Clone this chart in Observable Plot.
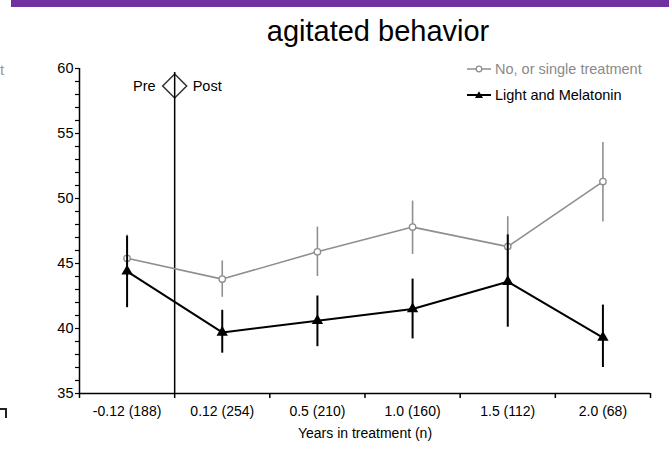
<!DOCTYPE html>
<html><head><meta charset="utf-8">
<script src="https://cdn.jsdelivr.net/npm/d3@7"></script>
<script src="https://cdn.jsdelivr.net/npm/@observablehq/plot@0.6"></script>
<style>
body{margin:0;background:#fff;font-family:"Liberation Sans",Arial,sans-serif;}
#wrap{position:relative;width:669px;height:462px;overflow:hidden;}
#bar{position:absolute;left:11px;top:0;width:658px;height:7px;background:#7030a0;}
#title{position:absolute;left:0;width:756px;top:17px;text-align:center;font-size:29px;line-height:29px;color:#000;}
#chart{position:absolute;left:0;top:0;}
.leg{position:absolute;left:467px;font-size:14.5px;line-height:16px;white-space:nowrap;display:flex;align-items:center;}
.leg svg{margin-right:4px;}
#fragT{position:absolute;left:0;top:61px;font-size:15px;color:#999;}
#fragB{position:absolute;left:0;top:408px;width:5px;height:8px;border-top:2px solid #222;border-right:2px solid #222;}
</style></head>
<body>
<div id="wrap">
  <div id="bar"></div>
  <div id="title">agitated behavior</div>
  <div id="chart"></div>
  <div id="fragT">t</div>
  <div id="fragB"></div>
</div>
<script>
const categories = ["-0.12 (188)", "0.12 (254)", "0.5 (210)", "1.0 (160)", "1.5 (112)", "2.0 (68)"];
const seriesNames = ["No, or single treatment", "Light and Melatonin"];
const noneMean = [45.4, 43.8, 45.9, 47.8, 46.3, 51.3];
const noneLow  = [43.6, 42.4, 44.0, 45.7, 44.3, 48.2];
const noneHigh = [47.2, 45.2, 47.8, 49.8, 48.6, 54.3];
const lmMean = [44.4, 39.7, 40.6, 41.5, 43.6, 39.3];
const lmLow  = [41.6, 38.1, 38.6, 39.2, 40.1, 37.0];
const lmHigh = [47.1, 41.4, 42.5, 43.8, 47.2, 41.8];
const yMajorTicks = [35, 40, 45, 50, 55, 60];
const yMinorTicks = [36, 37, 38, 39, 41, 42, 43, 44, 46, 47, 48, 49, 51, 52, 53, 54, 56, 57, 58, 59];
const xBoundaries = [-0.5, 0.5, 1.5, 2.5, 3.5, 4.5, 5.5];
const prePost = [{x: 0.5, y: 58.65, top: 59.7}];

const GRAY = "#8f8f8f";
const idx = categories.map((_, i) => i);
const none = idx.map(i => ({i, m: noneMean[i], lo: noneLow[i], hi: noneHigh[i]}));
const lm = idx.map(i => ({i, m: lmMean[i], lo: lmLow[i], hi: lmHigh[i]}));

const chart = Plot.plot({
  width: 669, height: 462,
  marginLeft: 79, marginRight: 19, marginTop: 68, marginBottom: 69,
  style: {fontFamily: "'Liberation Sans', Arial, sans-serif", background: "transparent", color: "#000"},
  x: {type: "linear", domain: [-0.5, 5.5], axis: null},
  y: {domain: [35, 60], axis: null},
  marks: [
    Plot.axisY(yMajorTicks, {tickSize: 4, tickPadding: 2, fontSize: 14.5, label: null, stroke: "#000", strokeWidth: 1.2}),
    Plot.axisY(yMinorTicks, {tickSize: 4, text: null, label: null, stroke: "#000", strokeWidth: 1.2}),
    Plot.axisX(xBoundaries, {tickSize: 5, text: null, label: null, stroke: "#000", strokeWidth: 1.5}),
    Plot.axisX(idx, {tickSize: 0, tickPadding: 13, fontSize: 14, tickFormat: i => categories[i], label: null}),
    Plot.text(["Years in treatment (n)"], {frameAnchor: "bottom", dy: 40, lineAnchor: "middle", fontSize: 14}),
    Plot.ruleX([-0.5], {y1: 35, y2: 60, stroke: "#000", strokeWidth: 1.5}),
    Plot.ruleY([35], {x1: -0.5, x2: 5.5, stroke: "#000", strokeWidth: 1.5}),
    // Pre/Post divider
    Plot.dot(prePost, {x: "x", y: "y", symbol: "diamond2", r: 10.8, fill: "#fff", stroke: "#333", strokeWidth: 1.5}),
    Plot.ruleX(prePost, {x: "x", y1: 35, y2: "top", stroke: "#000", strokeWidth: 1.5}),
    Plot.text(prePost, {x: "x", y: "y", text: () => "Pre", dx: -19, textAnchor: "end", fontSize: 14.5}),
    Plot.text(prePost, {x: "x", y: "y", text: () => "Post", dx: 18, textAnchor: "start", fontSize: 14.5}),
    // No, or single treatment
    Plot.ruleX(none, {x: "i", y1: "lo", y2: "hi", stroke: GRAY, strokeWidth: 1.6}),
    Plot.line(none, {x: "i", y: "m", stroke: GRAY, strokeWidth: 1.6}),
    Plot.dot(none, {x: "i", y: "m", r: 3.2, fill: "#fff", stroke: GRAY, strokeWidth: 1.4}),
    // Light and Melatonin
    Plot.ruleX(lm, {x: "i", y1: "lo", y2: "hi", stroke: "#000", strokeWidth: 2}),
    Plot.line(lm, {x: "i", y: "m", stroke: "#000", strokeWidth: 2}),
    Plot.dot(lm, {x: "i", y: "m", symbol: "triangle", r: 4.2, fill: "#000", stroke: "none"})
  ]
});
document.getElementById("chart").appendChild(chart);

// legend
const wrap = document.getElementById("wrap");
[[seriesNames[0], GRAY, "circle", 61], [seriesNames[1], "#000", "triangle", 87]].forEach(([name, col, sym, top]) => {
  const d = document.createElement("div");
  d.className = "leg";
  d.style.top = top + "px";
  d.style.color = col === GRAY ? "#8a8a8a" : "#000";
  const marker = sym === "circle"
    ? `<circle cx="12" cy="8" r="2.8" fill="#fff" stroke="${col}" stroke-width="1.3"/>`
    : `<path d="M12,4.2 L16,11 L8,11 Z" fill="${col}"/>`;
  d.innerHTML = `<svg width="24" height="16"><line x1="0" x2="24" y1="8" y2="8" stroke="${col}" stroke-width="${sym === "circle" ? 1.5 : 2}"/>${marker}</svg><span>${name}</span>`;
  wrap.appendChild(d);
});
</script>
</body></html>
